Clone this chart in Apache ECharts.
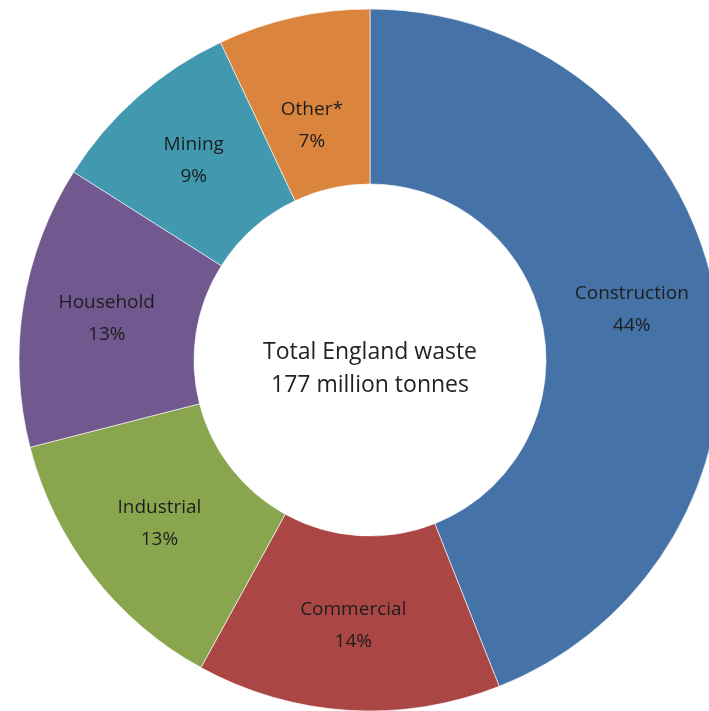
<!DOCTYPE html>
<html>
<head>
<meta charset="utf-8">
<script src="https://cdn.jsdelivr.net/npm/echarts@6/dist/echarts.min.js"></script>
<style>
  html, body { margin: 0; padding: 0; background: #fff; }
  #waste_chart { width: 709px; height: 711px; }
</style>
</head>
<body>
<div id="waste_chart"></div>
<script>
// England waste by source, percent of total
const sectors = ['Construction', 'Commercial', 'Industrial', 'Household', 'Mining', 'Other*'];
const shares = [44, 14, 13, 13, 9, 7];
const sectorColors = ['#4572A7', '#AA4643', '#89A54E', '#71588F', '#4198AF', '#DB843D'];
const centerLines = ['Total England waste', '177 million tonnes'];

const myechart = echarts.init(document.getElementById('waste_chart'));

let pieData = sectors.map((name, i) => {
  let item = { name: name, value: shares[i], itemStyle: { color: sectorColors[i] } };
  // Excel pushed this small slice's label a bit towards the hole
  if (name === 'Other*') item.label = { offset: [0, 26] };
  return item;
});

let option = {
  animation: false,
  graphic: [
    {
      type: 'text',
      x: 370,
      y: 369,
      style: {
        text: centerLines.join('\n'),
        font: '23px "Open Sans"',
        fill: '#222',
        align: 'center',
        verticalAlign: 'middle',
        lineHeight: 33
      }
    }
  ],
  series: [
    {
      type: 'pie',
      center: [370, 360],
      radius: [176, 351],
      startAngle: 90,
      clockwise: true,
      avoidLabelOverlap: false,
      itemStyle: {
        borderColor: 'rgba(255,255,255,0.6)',
        borderWidth: 1
      },
      label: {
        show: true,
        position: 'inside',
        formatter: '{b}\n{d}%',
        fontFamily: 'Open Sans',
        fontSize: 19,
        lineHeight: 32,
        color: '#1e1e1e'
      },
      labelLine: { show: false },
      emphasis: { disabled: true },
      data: pieData
    }
  ]
};
myechart.setOption(option);
</script>
</body>
</html>
